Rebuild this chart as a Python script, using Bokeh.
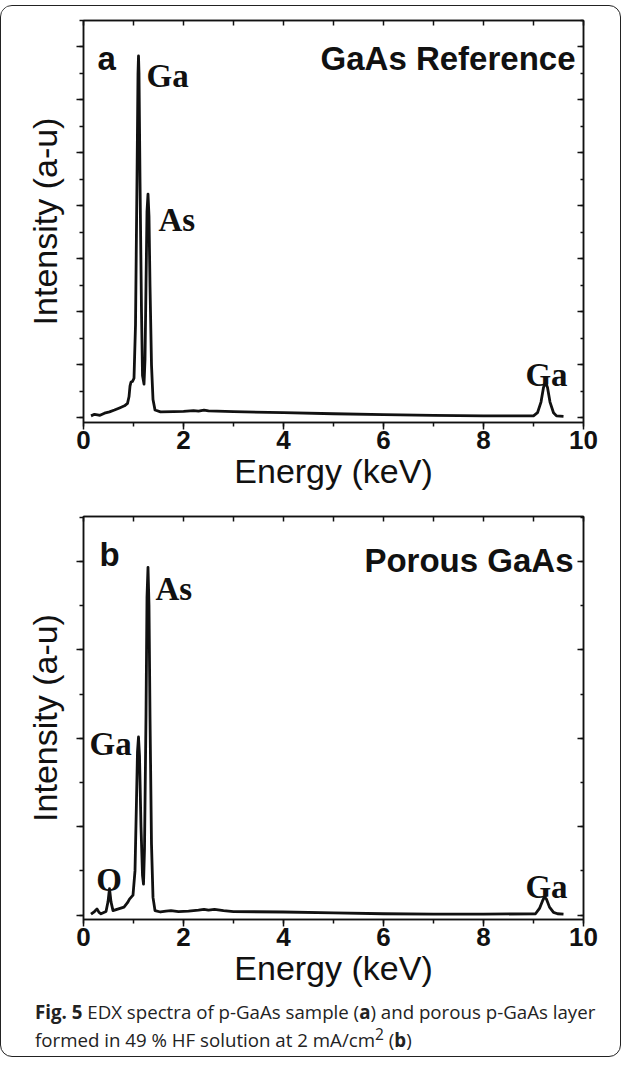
from bokeh.plotting import figure
from bokeh.models import Range1d, LinearAxis, SingleIntervalTicker, Label, Div
from bokeh.layouts import column
from bokeh.embed import file_html
from bokeh.resources import INLINE

# ---------------- data ----------------
# Panel a: GaAs reference spectrum (energy keV, intensity a.u.)
energy_a = [0.15, 0.22, 0.28, 0.33, 0.42, 0.52, 0.62, 0.72, 0.82, 0.88, 0.91, 0.93,
            0.95, 0.98, 1.01, 1.04, 1.07, 1.09, 1.10, 1.11, 1.13, 1.16, 1.18, 1.21,
            1.23, 1.25, 1.27, 1.29, 1.31, 1.33, 1.36, 1.39, 1.43, 1.54, 1.8, 2.0,
            2.2, 2.3, 2.41, 2.5, 3.0, 4.0, 5.0, 6.0, 7.0, 8.0, 9.0, 9.08, 9.15,
            9.2, 9.24, 9.28, 9.33, 9.4, 9.46, 9.6]
intensity_a = [0.08, 0.14, 0.12, 0.10, 0.18, 0.23, 0.30, 0.38, 0.46, 0.55, 0.80, 1.20,
               1.36, 1.38, 1.50, 3.5, 9.0, 13.0, 13.66, 13.0, 9.0, 4.0, 1.6, 1.28,
               2.2, 5.0, 7.8, 8.45, 7.6, 5.0, 2.0, 0.7, 0.30, 0.23, 0.24, 0.25,
               0.28, 0.26, 0.30, 0.27, 0.24, 0.20, 0.16, 0.13, 0.10, 0.08, 0.08, 0.20, 0.60,
               1.15, 1.36, 1.15, 0.60, 0.20, 0.08, 0.06]

# Panel b: porous GaAs spectrum
energy_b = [0.15, 0.22, 0.27, 0.31, 0.35, 0.45, 0.49, 0.52, 0.55, 0.59, 0.7, 0.81,
            0.88, 0.92, 0.99, 1.03, 1.06, 1.08, 1.10, 1.12, 1.15, 1.18, 1.20, 1.22,
            1.25, 1.27, 1.29, 1.31, 1.33, 1.36, 1.39, 1.43, 1.54, 1.65, 1.75, 1.9,
            2.1, 2.3, 2.41, 2.5, 2.62, 2.8, 3.0, 4.0, 5.0, 6.0, 7.0, 8.0, 9.04,
            9.12, 9.18, 9.22, 9.26, 9.32, 9.4, 9.48, 9.6]
intensity_b = [0.02, 0.08, 0.14, 0.06, 0.03, 0.08, 0.30, 0.60, 0.30, 0.10, 0.14, 0.18,
               0.28, 0.36, 0.45, 1.0, 2.6, 3.7, 4.03, 3.6, 2.0, 0.9, 0.70, 1.5,
               4.5, 7.2, 7.87, 7.0, 4.5, 1.6, 0.40, 0.10, 0.07, 0.09, 0.10, 0.08,
               0.09, 0.11, 0.13, 0.11, 0.13, 0.10, 0.08, 0.07, 0.05, 0.03, 0.02, 0.02, 0.03,
               0.15, 0.32, 0.41, 0.36, 0.18, 0.06, 0.03, 0.02]

panel_letters = ["a", "b"]
panel_titles = ["GaAs Reference", "Porous GaAs"]
x_axis_title = "Energy (keV)"
y_axis_title = "Intensity (a-u)"
caption_html = ("<b>Fig. 5</b> EDX spectra of p-GaAs sample (<b>a</b>) and porous p-GaAs layer<br>"
                "formed in 49 % HF solution at 2 mA/cm<sup>2</sup> (<b>b</b>)")

INK = "#111111"
SANS = "Liberation Sans"
SERIF = "Liberation Serif"


def hidden_labels(axis):
    axis.major_label_text_font_size = "0px"
    axis.major_label_standoff = 0


def make_panel(energy, intensity, y_lo, y_hi, height, top_border, bottom_border):
    p = figure(width=609, height=height,
               x_range=Range1d(0, 10), y_range=Range1d(y_lo, y_hi),
               output_backend="svg", toolbar_location=None,
               min_border_left=82, min_border_right=27,
               min_border_top=top_border, min_border_bottom=bottom_border,
               x_axis_label=x_axis_title, y_axis_label=y_axis_title)
    p.grid.visible = False
    p.outline_line_color = INK
    p.outline_line_width = 1.5
    p.background_fill_color = "white"
    p.border_fill_color = "white"

    xa = p.xaxis[0]
    xa.ticker = SingleIntervalTicker(interval=2, num_minor_ticks=2)
    xa.major_tick_out = 7
    xa.major_tick_in = 0
    xa.minor_tick_out = 4
    xa.minor_tick_in = 0
    xa.axis_line_width = 1.5
    xa.major_tick_line_width = 1.5
    xa.minor_tick_line_width = 1.5
    xa.axis_line_color = INK
    xa.major_tick_line_color = INK
    xa.minor_tick_line_color = INK
    xa.major_label_text_font = SANS
    xa.major_label_text_font_style = "bold"
    xa.major_label_text_font_size = "26px"
    xa.major_label_text_color = INK
    xa.major_label_standoff = 1
    xa.axis_label_text_font = SANS
    xa.axis_label_text_font_style = "normal"
    xa.axis_label_text_font_size = "34px"
    xa.axis_label_text_color = INK
    xa.axis_label_standoff = 0

    ya = p.yaxis[0]
    ya.ticker = SingleIntervalTicker(interval=2, num_minor_ticks=2)
    ya.major_tick_out = 7
    ya.major_tick_in = 0
    ya.minor_tick_out = 4
    ya.minor_tick_in = 0
    ya.axis_line_width = 1.5
    ya.major_tick_line_width = 1.5
    ya.minor_tick_line_width = 1.5
    ya.axis_line_color = INK
    ya.major_tick_line_color = INK
    ya.minor_tick_line_color = INK
    hidden_labels(ya)
    ya.axis_label_text_font = SANS
    ya.axis_label_text_font_style = "normal"
    ya.axis_label_text_font_size = "34px"
    ya.axis_label_text_color = INK
    ya.axis_label_standoff = 13

    ra = LinearAxis(ticker=SingleIntervalTicker(interval=2, num_minor_ticks=2),
                    major_tick_in=6, major_tick_out=0, minor_tick_in=3, minor_tick_out=0,
                    axis_line_width=1.5, major_tick_line_width=1.5, minor_tick_line_width=1.5,
                    axis_line_color=INK, major_tick_line_color=INK, minor_tick_line_color=INK)
    hidden_labels(ra)
    p.add_layout(ra, "right")
    ta = LinearAxis(ticker=SingleIntervalTicker(interval=1, num_minor_ticks=0),
                    major_tick_in=5, major_tick_out=0, minor_tick_in=0, minor_tick_out=0,
                    axis_line_width=1.5, major_tick_line_width=1.5,
                    axis_line_color=INK, major_tick_line_color=INK)
    hidden_labels(ta)
    p.add_layout(ta, "above")

    p.line(energy, intensity, line_width=2.8, line_color=INK, line_join="round")
    return p


def add_text(p, x, y, text, font, size, align="left"):
    p.add_layout(Label(x=x, y=y, text=text, text_font=font, text_font_style="bold",
                       text_font_size=size, text_color=INK, text_align=align,
                       text_baseline="alphabetic"))


pa = make_panel(energy_a, intensity_a, -0.17, 15.0, 492, 14, 76)
add_text(pa, 0.28, 13.58, panel_letters[0], SANS, "33px")
add_text(pa, 9.84, 13.58, panel_titles[0], SANS, "33px", "right")
add_text(pa, 1.26, 12.9, "Ga", SERIF, "33px")
add_text(pa, 1.50, 7.47, "As", SERIF, "33px")
add_text(pa, 9.26, 1.62, "Ga", SERIF, "33px", "center")

pb = make_panel(energy_b, intensity_b, -0.10, 9.02, 493, 18, 72)
add_text(pb, 0.32, 8.17, panel_letters[1], SANS, "33px")
add_text(pb, 9.80, 8.03, panel_titles[1], SANS, "33px", "right")
add_text(pb, 1.44, 7.38, "As", SERIF, "33px")
add_text(pb, 0.12, 3.87, "Ga", SERIF, "33px")
add_text(pb, 0.51, 0.79, "O", SERIF, "33px", "center")
add_text(pb, 9.26, 0.63, "Ga", SERIF, "33px", "center")

cap = Div(text=caption_html, width=609, height=55,
          styles={"font-family": "'Open Sans'", "font-size": "18.7px", "line-height": "22px",
                  "color": "#222222", "padding-left": "23px", "padding-top": "5px",
                  "text-indent": "6px", "box-sizing": "border-box", "white-space": "nowrap"})

layout = column(pa, pb, cap, spacing=0,
                styles={"border": "1.5px solid #222222", "border-radius": "12px",
                        "margin-top": "5px", "overflow": "hidden", "background": "white"})

open("out.html", "w").write(file_html(layout, INLINE))
